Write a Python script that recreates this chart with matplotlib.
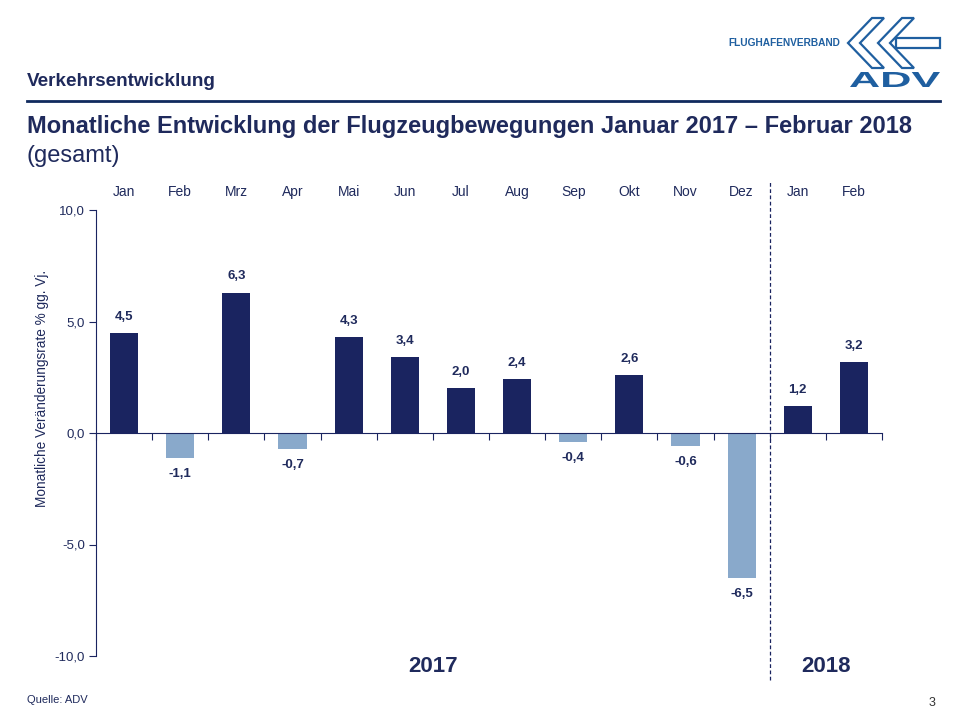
import matplotlib
matplotlib.use("Agg")
import matplotlib.pyplot as plt
from matplotlib.lines import Line2D
from matplotlib.patches import Polygon, PathPatch
from matplotlib.textpath import TextPath
from matplotlib.font_manager import FontProperties
from matplotlib.transforms import Affine2D

NAVY = "#1a2460"
LIGHT = "#89a9cb"
TEXT = "#1f2a5c"
LOGO = "#1f5fa0"

months = ["Jan", "Feb", "Mrz", "Apr", "Mai", "Jun", "Jul", "Aug", "Sep", "Okt",
          "Nov", "Dez", "Jan", "Feb"]
values = [4.5, -1.1, 6.3, -0.7, 4.3, 3.4, 2.0, 2.4, -0.4, 2.6, -0.6, -6.5, 1.2, 3.2]
years = ["2017", "2018"]
yticks = [-10, -5, 0, 5, 10]


def fmt(v):
    return f"{v:.1f}".replace(".", ",")


plt.rcParams["font.family"] = ["Liberation Sans", "DejaVu Sans"]

fig = plt.figure(figsize=(9.6, 7.2), dpi=100)
W, H = 960, 720

# --- header ---
fig.text(27 / W, 1 - 82 / H, "Verkehrsentwicklung", fontsize=13.6, fontweight="bold",
         color=TEXT, va="center")
fig.add_artist(Line2D([27 / W, 940 / W], [1 - 101 / H, 1 - 101 / H], color="#102a5e", lw=2))
fig.text(27 / W, 1 - 127 / H,
         "Monatliche Entwicklung der Flugzeugbewegungen Januar 2017 \u2013 Februar 2018",
         fontsize=17, fontweight="bold", color=TEXT, va="center")
fig.text(27 / W, 1 - 156 / H, "(gesamt)", fontsize=17, color=TEXT, va="center")

# --- logo ---
fig.text(840 / W, 1 - 43 / H, "FLUGHAFENVERBAND", fontsize=7.3, fontweight="bold",
         color=LOGO, ha="right", va="center")


def px(pts):
    return [(x / W, 1 - y / H) for x, y in pts]


chev1 = [(872, 18), (884, 18), (860, 43), (884, 68), (872, 68), (848, 43)]
chev2 = [(902, 18), (914, 18), (890, 43), (914, 68), (902, 68), (878, 43)]
for c in (chev1, chev2):
    fig.add_artist(Polygon(px(c), closed=True, fill=False, edgecolor=LOGO, lw=1.6))
fig.add_artist(Polygon(px([(896, 38), (940, 38), (940, 48), (896, 48)]), closed=True,
                       fill=False, edgecolor=LOGO, lw=1.6))

tp = TextPath((0, 0), "ADV", size=10, prop=FontProperties(family="Liberation Sans",
                                                          weight="bold"))
ext = tp.get_extents()
sx = 90 / ext.width
sy = 15 / ext.height
tr = (Affine2D().translate(-ext.x0, -ext.y0).scale(sx / W, sy / H)
      .translate(850 / W, 1 - 87 / H) + fig.transFigure)
fig.add_artist(PathPatch(tp, transform=tr, color=LOGO, lw=0))

# --- chart ---
ax = fig.add_axes([96 / W, 1 - 656 / H, (882 - 96) / W, (656 - 210) / H])
x = list(range(len(months)))
colors = [NAVY if v >= 0 else LIGHT for v in values]
ax.bar(x, values, width=0.5, color=colors, zorder=2)

ax.set_xlim(-0.5, len(months) - 0.5)
ax.set_ylim(-10, 10)
ax.set_yticks(yticks)
ax.set_yticklabels([fmt(t) for t in yticks], fontsize=9.5, color=TEXT)
ax.tick_params(axis="y", direction="out", length=5, color=NAVY, pad=3)

ax.spines["top"].set_visible(False)
ax.spines["right"].set_visible(False)
ax.spines["left"].set_color(NAVY)
ax.spines["bottom"].set_position(("data", 0))
ax.spines["bottom"].set_color(NAVY)
ax.set_xticks([i + 0.5 for i in range(-1, len(months))])
ax.set_xticklabels([])
ax.tick_params(axis="x", direction="out", length=5, color=NAVY)

ax.set_ylabel("Monatliche Veränderungsrate % gg. Vj.", fontsize=9.8, color=TEXT)
ax.yaxis.set_label_coords(-0.060, 0.60)

for i, m in enumerate(months):
    ax.text(i, 10.8, m, ha="center", va="center", fontsize=10, color=TEXT, clip_on=False)

for i, v in enumerate(values):
    if v >= 0:
        ax.text(i, v + 0.45, fmt(v), ha="center", va="bottom", fontsize=9.5,
                fontweight="bold", color=TEXT)
    else:
        ax.text(i, v - 0.45, fmt(v), ha="center", va="top", fontsize=9.5,
                fontweight="bold", color=TEXT)

ax.axvline(11.5, ymin=-0.054, ymax=1.067, color=NAVY, lw=0.9, ls=(0, (3, 2)),
           clip_on=False, zorder=3)

ax.text(5.5, -10.45, years[0], ha="center", va="center", fontsize=16, fontweight="bold",
        color=TEXT, clip_on=False)
ax.text(12.5, -10.45, years[1], ha="center", va="center", fontsize=16, fontweight="bold",
        color=TEXT, clip_on=False)

# --- footer ---
fig.text(27 / W, 1 - 700 / H, "Quelle: ADV", fontsize=8, color=TEXT, va="center")
fig.text(935 / W, 1 - 703 / H, "3", fontsize=9, color="#333333", ha="right", va="center")

fig.savefig("out.png", dpi=100)
